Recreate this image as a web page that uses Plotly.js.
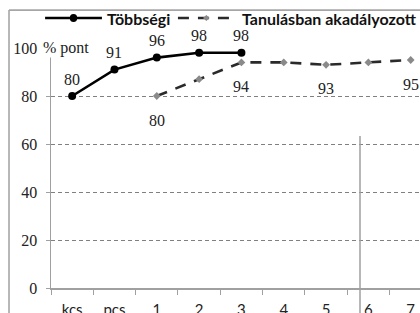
<!DOCTYPE html>
<html>
<head>
<meta charset="utf-8">
<script src="https://cdn.plot.ly/plotly-3.0.1.min.js"></script>
<style>
  html, body { margin: 0; padding: 0; background: #ffffff; }
  #chart { width: 420px; height: 313px; }
</style>
</head>
<body>
<div id="chart"></div>
<script>
// ---- data ----
const categories = ["kcs", "pcs", "1", "2", "3", "4", "5", "6", "7"];
const seriesNames = ["Többségi", "Tanulásban akadályozott"];

const tobbsegiX = ["kcs", "pcs", "1", "2", "3"];
const tobbsegiY = [80, 91, 96, 98, 98];
const tobbsegiLabels = ["80", "91", "96", "98", "98"];

const tanulasX = ["1", "2", "3", "4", "5", "6", "7"];
const tanulasY = [80, 87, 94, 94, 93, 94, 95];
const tanulasLabels = ["80", null, "94", null, "93", null, "95"];

const yTicks = [0, 20, 40, 60, 80, 100];
const yUnit = "% pont";

// ---- styles ----
const serif = "'Liberation Serif', 'DejaVu Serif', serif";
const sans = "Lato, 'Liberation Sans', sans-serif";
const frameColor = "#a6a6a6";

const traces = [
  {
    type: "scatter", mode: "lines+markers", name: seriesNames[0],
    x: tobbsegiX, y: tobbsegiY,
    line: { color: "#000000", width: 2.6 },
    marker: { symbol: "circle", size: 8, color: "#000000" },
    cliponaxis: false, showlegend: false, hoverinfo: "skip"
  },
  {
    type: "scatter", mode: "lines+markers", name: seriesNames[1],
    x: tanulasX, y: tanulasY,
    line: { color: "#2a2a2a", width: 2.6, dash: "11px,9px" },
    marker: { symbol: "diamond", size: 6, color: "#8a8a8a" },
    cliponaxis: false, showlegend: false, hoverinfo: "skip"
  }
];

const annotations = [];
tobbsegiX.forEach((c, i) => {
  if (tobbsegiLabels[i] == null) return;
  annotations.push({
    x: categories.indexOf(c), y: tobbsegiY[i], xref: "x", yref: "y", text: tobbsegiLabels[i],
    showarrow: false, yshift: 17, font: { family: serif, size: 16, color: "#222" }
  });
});
tanulasX.forEach((c, i) => {
  if (tanulasLabels[i] == null) return;
  annotations.push({
    x: categories.indexOf(c), y: tanulasY[i], xref: "x", yref: "y", text: tanulasLabels[i],
    showarrow: false, yshift: -24, font: { family: serif, size: 16, color: "#222" }
  });
});
// unit label next to the top tick
annotations.push({
  x: -0.024, xref: "paper", xanchor: "left", y: 100, yref: "y", yanchor: "middle",
  text: yUnit, showarrow: false, bgcolor: "#ffffff", borderpad: 0,
  font: { family: serif, size: 16, color: "#222" }
});
// legend texts
annotations.push({
  x: 0.146, xref: "paper", xanchor: "left", y: 1.125, yref: "paper", yanchor: "middle",
  text: seriesNames[0], showarrow: false, font: { family: sans, size: 16, color: "#111", weight: "bold" }
});
annotations.push({
  x: 0.512, xref: "paper", xanchor: "left", y: 1.125, yref: "paper", yanchor: "middle",
  text: seriesNames[1], showarrow: false, font: { family: sans, size: 16, color: "#111", weight: "bold" }
});

const shapes = [
  // chart frame (left and top edges)
  { type: "line", xref: "paper", yref: "paper", x0: -0.1138, x1: -0.1138, y0: 1.158, y1: -0.2, line: { color: frameColor, width: 1.6 } },
  { type: "line", xref: "paper", yref: "paper", x0: -0.1138, x1: 1.05, y0: 1.158, y1: 1.158, line: { color: frameColor, width: 1.6 } },
  // stray vertical line
  { type: "line", xref: "paper", yref: "paper", x0: 0.8374, x1: 0.8374, y0: 0.633, y1: -0.2, line: { color: "#a0a0a0", width: 1.5 } },
  // legend samples
  { type: "line", xref: "paper", yref: "paper", x0: -0.016, x1: 0.138, y0: 1.125, y1: 1.125, line: { color: "#000", width: 2.6 } },
  { type: "circle", xref: "paper", yref: "paper", x0: 0.051, x1: 0.071, y0: 1.108, y1: 1.142, fillcolor: "#000", line: { color: "#000", width: 0 } },
  { type: "line", xref: "paper", yref: "paper", x0: 0.344, x1: 0.501, y0: 1.125, y1: 1.125, line: { color: "#2a2a2a", width: 2.6, dash: "11px,9px" } },
  { type: "path", xref: "paper", yref: "paper", path: "M 0.412 1.125 L 0.421 1.138 L 0.430 1.125 L 0.421 1.112 Z", fillcolor: "#8a8a8a", line: { color: "#8a8a8a", width: 0 } }
];

const layout = {
  width: 420, height: 313,
  margin: { l: 51, r: 0, t: 48, b: 25 },
  paper_bgcolor: "#ffffff", plot_bgcolor: "#ffffff",
  showlegend: false,
  xaxis: {
    type: "category", categoryorder: "array", categoryarray: categories,
    range: [-0.5, 8.22], fixedrange: true,
    showgrid: false, zeroline: false,
    showline: true, linecolor: "#a0a0a0", linewidth: 1.5,
    ticks: "outside", tickson: "boundaries", ticklen: 5, tickcolor: "#a0a0a0", tickwidth: 1,
    ticklabelstandoff: 7,
    tickfont: { family: sans, size: 15, color: "#222" }
  },
  yaxis: {
    range: [0, 100], tickvals: yTicks, fixedrange: true,
    showgrid: true, gridcolor: "#808080", griddash: "4px,3px", gridwidth: 1,
    zeroline: false, showline: true, linecolor: "#a0a0a0", linewidth: 1.5,
    ticks: "outside", ticklen: 4, tickcolor: "#a0a0a0",
    ticklabelstandoff: 5,
    tickfont: { family: serif, size: 16, color: "#222" }
  },
  annotations: annotations,
  shapes: shapes
};

Plotly.newPlot("chart", traces, layout, { staticPlot: true, displayModeBar: false });
</script>
</body>
</html>
